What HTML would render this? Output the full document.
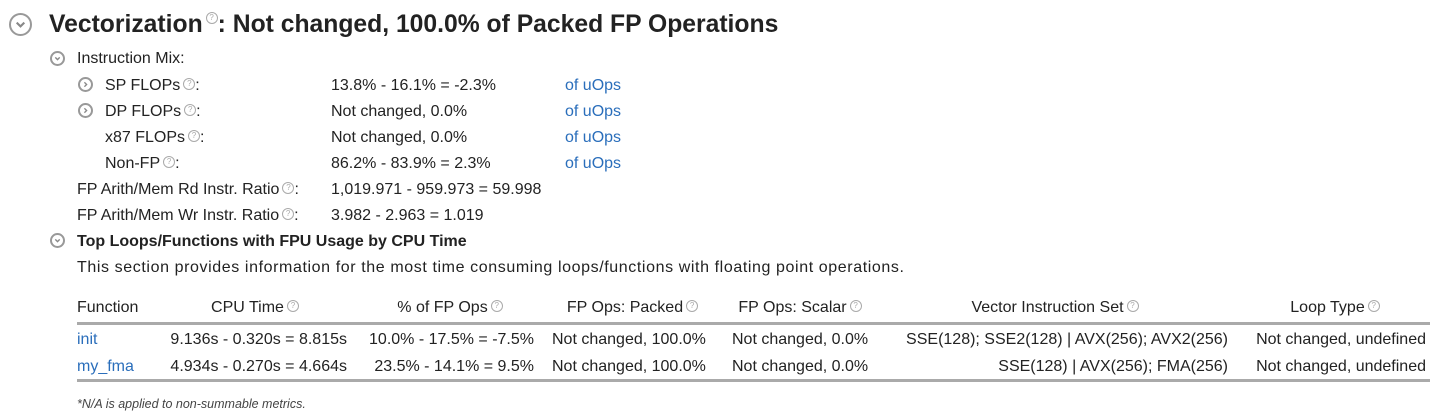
<!DOCTYPE html>
<html><head><meta charset="utf-8"><style>
body{margin:0;width:1442px;height:416px;background:#fff;font-family:"Liberation Sans",sans-serif;color:#222;position:relative;overflow:hidden}
.t{position:absolute;white-space:nowrap;font-size:16px;line-height:20px}
.r{text-align:right}
.c{text-align:center}
.lnk{color:#2a6ebb}
.q{display:inline-block;width:10px;height:10px;border:1px solid #aaa;border-radius:50%;font-size:8px;line-height:10px;text-align:center;color:#aaa;vertical-align:4px;margin-left:3px}
.ic{position:absolute;border:2px solid #999;border-radius:50%;box-sizing:border-box}
.ic svg{position:absolute;left:0;top:0;width:100%;height:100%}
.hr{position:absolute;left:77px;width:1353px;height:3px;background:#aaa}
</style></head><body>
<div class="ic" style="left:9px;top:13px;width:23px;height:23px"><svg viewBox="0 0 20 20"><path d="M6 8l4 4 4-4" fill="none" stroke="#888" stroke-width="2.2"/></svg></div>
<div class="t" style="left:49px;top:9px;font-size:24.7px;line-height:32px;font-weight:bold;color:#222">Vectorization<span class="q" style="vertical-align:12px;font-weight:normal">?</span>: Not changed, 100.0% of Packed FP Operations</div>

<div class="ic" style="left:50px;top:51px;width:15px;height:15px"><svg viewBox="0 0 20 20"><path d="M6 8l4 4 4-4" fill="none" stroke="#888" stroke-width="2.5"/></svg></div>
<div class="t" style="left:77px;top:49px">Instruction Mix:</div>

<div class="ic" style="left:78px;top:77px;width:15px;height:15px"><svg viewBox="0 0 20 20"><path d="M8 6l4 4-4 4" fill="none" stroke="#888" stroke-width="2.5"/></svg></div>
<div class="t" style="left:105px;top:76px">SP FLOPs<span class="q">?</span>:</div>
<div class="t" style="left:331px;top:76px">13.8% - 16.1% = -2.3%</div>
<div class="t lnk" style="left:565px;top:76px">of uOps</div>

<div class="ic" style="left:78px;top:103px;width:15px;height:15px"><svg viewBox="0 0 20 20"><path d="M8 6l4 4-4 4" fill="none" stroke="#888" stroke-width="2.5"/></svg></div>
<div class="t" style="left:105px;top:102px">DP FLOPs<span class="q">?</span>:</div>
<div class="t" style="left:331px;top:102px">Not changed, 0.0%</div>
<div class="t lnk" style="left:565px;top:102px">of uOps</div>

<div class="t" style="left:105px;top:128px">x87 FLOPs<span class="q">?</span>:</div>
<div class="t" style="left:331px;top:128px">Not changed, 0.0%</div>
<div class="t lnk" style="left:565px;top:128px">of uOps</div>

<div class="t" style="left:105px;top:154px">Non-FP<span class="q">?</span>:</div>
<div class="t" style="left:331px;top:154px">86.2% - 83.9% = 2.3%</div>
<div class="t lnk" style="left:565px;top:154px">of uOps</div>

<div class="t" style="left:77px;top:180px">FP Arith/Mem Rd Instr. Ratio<span class="q">?</span>:</div>
<div class="t" style="left:331px;top:180px">1,019.971 - 959.973 = 59.998</div>
<div class="t" style="left:77px;top:206px">FP Arith/Mem Wr Instr. Ratio<span class="q">?</span>:</div>
<div class="t" style="left:331px;top:206px">3.982 - 2.963 = 1.019</div>

<div class="ic" style="left:50px;top:233px;width:15px;height:15px"><svg viewBox="0 0 20 20"><path d="M6 8l4 4 4-4" fill="none" stroke="#888" stroke-width="2.5"/></svg></div>
<div class="t" style="left:77px;top:232px;font-weight:bold">Top Loops/Functions with FPU Usage by CPU Time</div>
<div class="t" style="left:77px;top:258px;font-size:16px;letter-spacing:0.6px">This section provides information for the most time consuming loops/functions with floating point operations.</div>

<div class="t" style="left:77px;top:298px">Function</div>
<div class="t c" style="left:160px;width:190px;top:298px">CPU Time<span class="q">?</span></div>
<div class="t c" style="left:360px;width:180px;top:298px">% of FP Ops<span class="q">?</span></div>
<div class="t c" style="left:545px;width:175px;top:298px">FP Ops: Packed<span class="q">?</span></div>
<div class="t c" style="left:725px;width:150px;top:298px">FP Ops: Scalar<span class="q">?</span></div>
<div class="t c" style="left:880px;width:350px;top:298px">Vector Instruction Set<span class="q">?</span></div>
<div class="t c" style="left:1240px;width:190px;top:298px">Loop Type<span class="q">?</span></div>
<div class="hr" style="top:322px"></div>

<div class="t lnk" style="left:77px;top:330px">init</div>
<div class="t r" style="right:1095px;top:330px">9.136s - 0.320s = 8.815s</div>
<div class="t r" style="right:908px;top:330px">10.0% - 17.5% = -7.5%</div>
<div class="t" style="left:552px;top:330px">Not changed, 100.0%</div>
<div class="t" style="left:732px;top:330px">Not changed, 0.0%</div>
<div class="t r" style="right:214px;top:330px">SSE(128); SSE2(128) | AVX(256); AVX2(256)</div>
<div class="t r" style="right:16px;top:330px">Not changed, undefined</div>

<div class="t lnk" style="left:77px;top:357px">my_fma</div>
<div class="t r" style="right:1095px;top:357px">4.934s - 0.270s = 4.664s</div>
<div class="t r" style="right:908px;top:357px">23.5% - 14.1% = 9.5%</div>
<div class="t" style="left:552px;top:357px">Not changed, 100.0%</div>
<div class="t" style="left:732px;top:357px">Not changed, 0.0%</div>
<div class="t r" style="right:214px;top:357px">SSE(128) | AVX(256); FMA(256)</div>
<div class="t r" style="right:16px;top:357px">Not changed, undefined</div>
<div class="hr" style="top:379px"></div>

<div class="t" style="left:77px;top:394px;font-size:12.5px;font-style:italic;color:#444">*N/A is applied to non-summable metrics.</div>
</body></html>
